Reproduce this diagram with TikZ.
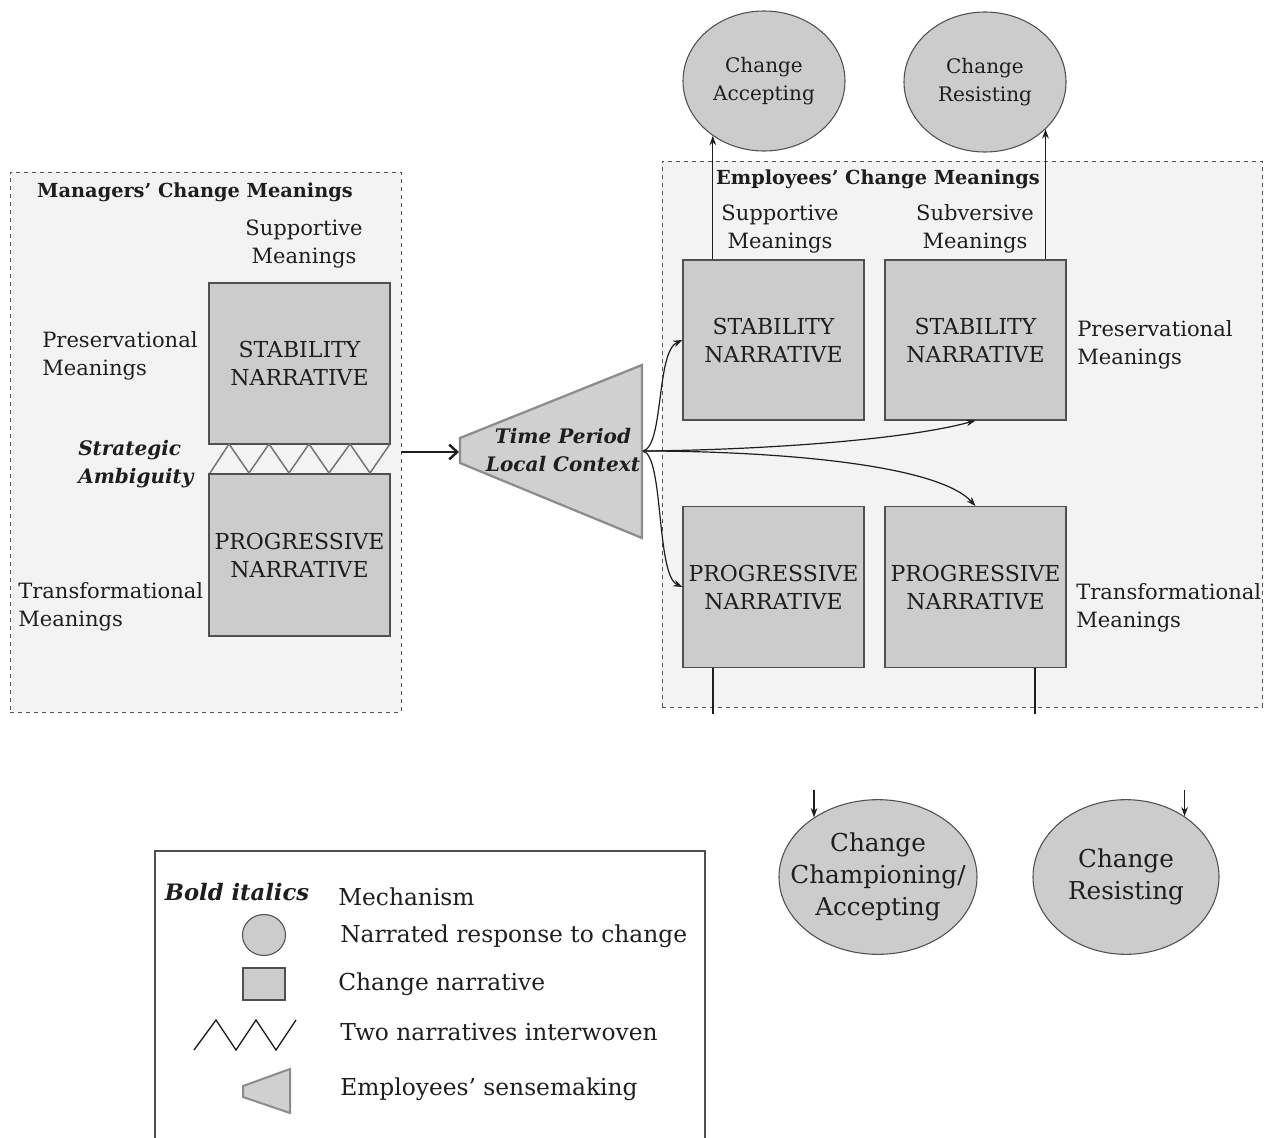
\documentclass[tikz,border=0pt]{standalone}
\usepackage{fontspec}
\setmainfont{DejaVu Serif}
\usetikzlibrary{shapes.geometric,arrows.meta,calc}
\definecolor{boxfill}{HTML}{CCCCCC}
\definecolor{panel}{HTML}{F3F3F3}
\definecolor{edge}{HTML}{505050}
\definecolor{trifill}{HTML}{D0D0D0}
\definecolor{tristroke}{HTML}{8C8C8C}
\definecolor{ink}{HTML}{1E1E1E}
\begin{document}
\begin{tikzpicture}[x=0.75pt,y=-0.75pt,
  txt/.style={font=\fontsize{15.8}{21}\selectfont, inner sep=0pt, align=center, text=ink},
  ltxt/.style={txt, align=left, anchor=west},
  ttl/.style={txt, font=\fontsize{14.5}{21}\selectfont\bfseries},
  mech/.style={txt, font=\fontsize{15}{20.5}\selectfont\bfseries\itshape},
  narr/.style={draw=edge, fill=boxfill, line width=0.8pt, minimum width=135.75pt, minimum height=120.75pt, inner sep=0pt, align=center, text=ink, font=\fontsize{16.5}{21}\selectfont},
  resp/.style={ellipse, draw=edge, fill=boxfill, line width=0.8pt, inner sep=0pt, align=center, text=ink, font=\fontsize{15}{21}\selectfont},
  panelbox/.style={draw=edge, dashed, fill=panel, line width=0.7pt, inner sep=0pt},
  conn/.style={line width=0.9pt, draw=ink, -{Stealth[length=7pt,width=5pt]}},
  plain/.style={line width=0.9pt, draw=ink},
  leg/.style={ltxt, font=\fontsize{17.5}{21}\selectfont},
]
\useasboundingbox (0,0) rectangle (1275,1138);
\fill[white] (0,0) rectangle (1275,1138);

% panels
\node[panelbox, minimum width=293.25pt, minimum height=405pt] (mgr) at (205.5,442) {};
\node[panelbox, minimum width=450pt, minimum height=409.5pt] (emp) at (962,434) {};

% managers side
\node[ttl] (mgrt) at (195,192) {Managers’ Change Meanings};
\node[txt] (msup) at (304,244) {Supportive\\Meanings};
\node[ltxt] (mpres) at (42,356) {Preservational\\Meanings};
\node[mech, align=left, anchor=west] (sa) at (78,464) {Strategic\\Ambiguity};
\node[ltxt] (mtrans) at (18,607) {Transformational\\Meanings};
\node[narr] (ms) at (299.5,363.5) {STABILITY\\NARRATIVE};
\node[narr, minimum height=121.5pt] (mp) at (299.5,555) {PROGRESSIVE\\NARRATIVE};
\draw[line width=1.1pt, draw=edge!80, line join=miter]
  (210,473) -- (229,444) -- (249,473) -- (269,444) -- (289,473) -- (309,444)
  -- (329,473) -- (350,444) -- (370,473) -- (390,444);

% triangle (employees' sensemaking)
\draw[fill=trifill, draw=tristroke, line width=1.7pt, line join=miter]
  (460,438) -- (642,365) -- (642,538) -- (460,463) -- cycle;
\coordinate (trl) at (459,452);
\coordinate (trr) at (643,451);
\node[mech] (tpl) at (563,450) {Time Period\\Local Context};

\draw[line width=2.2pt, draw=ink, -{Straight Barb[length=6pt,width=11pt,line width=1.8pt]}] (mgr.east |- trl) -- (trl);

% employees side
\node[ttl] (empt) at (878,179) {Employees’ Change Meanings};
\node[txt] (esup) at (780,229) {Supportive\\Meanings};
\node[txt] (esub) at (975,229) {Subversive\\Meanings};
\node[ltxt] (epres) at (1077,345) {Preservational\\Meanings};
\node[ltxt] (etrans) at (1076,608) {Transformational\\Meanings};
\node[narr, minimum height=120pt] (es1) at (773.5,340) {STABILITY\\NARRATIVE};
\node[narr, minimum height=120pt] (es2) at (975.5,340) {STABILITY\\NARRATIVE};
\node[narr] (ep1) at (773.5,587) {PROGRESSIVE\\NARRATIVE};
\node[narr] (ep2) at (975.5,587) {PROGRESSIVE\\NARRATIVE};

% response circles
\node[resp, minimum width=121.5pt, minimum height=105pt] (ca) at (764,81) {Change\\Accepting};
\node[resp, minimum width=121.5pt, minimum height=105pt] (cr) at (985,82) {Change\\Resisting};
\node[resp, minimum width=148.5pt, minimum height=116pt,
  label={[align=center, text=ink, inner sep=0pt, font=\fontsize{18.5}{24}\selectfont]center:Change\\Championing/\\Accepting}] (cc) at (878,877) {};
\node[resp, minimum width=139.5pt, minimum height=116pt,
  label={[align=center, text=ink, inner sep=0pt, font=\fontsize{18.5}{24}\selectfont]center:Change\\Resisting}] (cr2) at (1126,877) {};

% connectors from triangle
\draw[conn] (trr) .. controls (664,446) and (656,352) .. (es1.west);
\draw[conn] (trr) .. controls (664,456) and (656,575) .. (ep1.west);
\draw[conn] (trr) .. controls (760,450) and (905,440) .. (es2.south);
\draw[conn] (trr) .. controls (760,451) and (935,462) .. (ep2.north);

% to top circles
\draw[conn] (es1.north -| ca.227) -- (ca.227);
\draw[conn] (es2.north -| cr.322) -- (cr.322);

% progressive boxes down (broken)
\coordinate (p1end) at (713,714);
\coordinate (p2end) at (1035,714);
\draw[plain] (ep1.south -| p1end) -- (p1end);
\draw[plain] (ep2.south -| p2end) -- (p2end);
\coordinate (b1top) at (814,790);
\coordinate (b2top) at (1184,790);
\draw[conn] (cc.137 |- b1top) -- (cc.137);
\draw[conn] (cr2.46 |- b2top) -- (cr2.46);

% legend
\draw[line width=1pt, draw=edge] (155,1142) -- (155,851) -- (705,851) -- (705,1142);
\node[mech, font=\fontsize{17}{20}\selectfont\bfseries\itshape] (lbi) at (237,892) {Bold italics};
\node[leg] (lmech) at (338,897) {Mechanism};
\node[ellipse, draw=edge, fill=boxfill, line width=0.8pt, minimum width=32.25pt, minimum height=30.75pt, inner sep=0pt] (lc) at (264,935) {};
\node[leg] (lnar) at (340,936) {Narrated response to change};
\node[draw=edge, fill=boxfill, line width=0.8pt, minimum width=31.5pt, minimum height=24pt, inner sep=0pt] (lsq) at (264,984) {};
\node[leg] (lcn) at (338,984) {Change narrative};
\draw[line width=1pt, draw=ink, line join=miter] (194,1050) -- (216,1020) -- (236,1050) -- (256,1020) -- (276,1050) -- (296,1020);
\node[leg] (ltwo) at (340,1032) {Two narratives interwoven};
\draw[fill=trifill, draw=tristroke, line width=1.5pt, line join=miter] (243,1086) -- (290,1069) -- (290,1113) -- (243,1097) -- cycle;
\node[leg] (lemp) at (340,1089) {Employees’ sensemaking};
\end{tikzpicture}
\end{document}
